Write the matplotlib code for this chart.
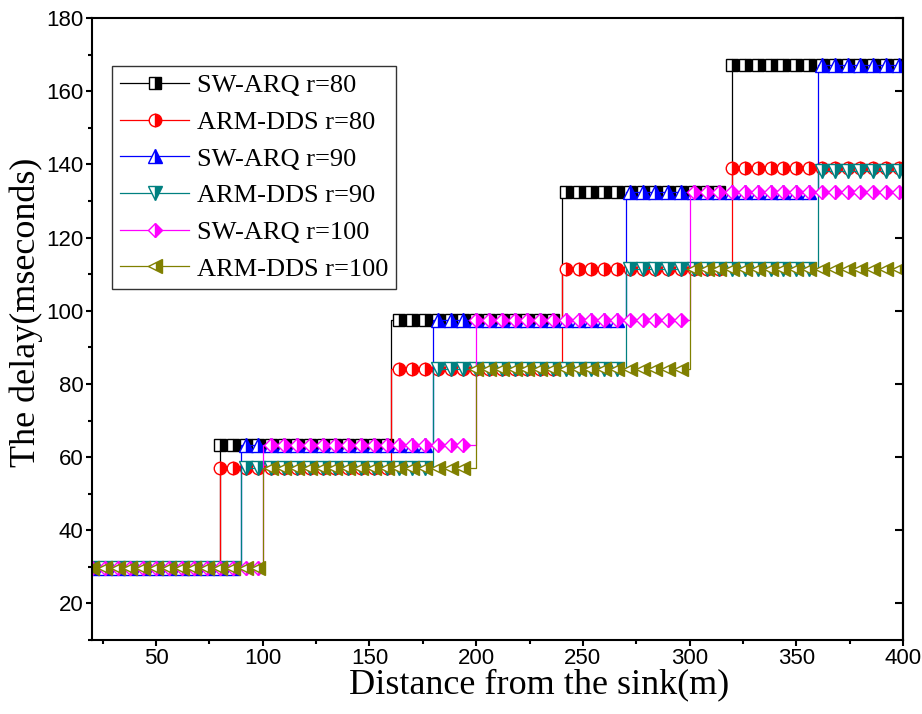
import numpy as np
import matplotlib
matplotlib.use('Agg')
import matplotlib.pyplot as plt
from matplotlib.ticker import MultipleLocator

# distances where markers are drawn (m)
distances = [20, 26, 32, 38, 44, 50, 56, 62, 68, 74, 80, 86, 92, 98, 104, 110,
             116, 122, 128, 134, 140, 146, 152, 158, 164, 170, 176, 182, 188, 194,
             200, 206, 212, 218, 224, 230, 236, 242, 248, 254, 260, 266, 272, 278,
             284, 290, 296, 302, 308, 314, 320, 326, 332, 338, 344, 350, 356, 362,
             368, 374, 380, 386, 392, 398]
x_end = 400

# where each curve steps up, and the delay on each step (ms)
breaks_80 = [80, 160, 240, 320]
breaks_90 = [90, 180, 270, 360]
breaks_100 = [100, 200, 300]

sw_arq_80 = [29.7, 63.2, 97.6, 132.4, 167.3]
arm_dds_80 = [29.7, 57.0, 84.2, 111.5, 139.0]
sw_arq_90 = [29.7, 63.2, 97.6, 132.4, 167.3]
arm_dds_90 = [29.7, 57.0, 84.2, 111.5, 138.3]
sw_arq_100 = [29.7, 63.2, 97.6, 132.4]
arm_dds_100 = [29.7, 57.0, 84.2, 111.5]

labels = ['SW-ARQ r=80', 'ARM-DDS r=80', 'SW-ARQ r=90',
          'ARM-DDS r=90', 'SW-ARQ r=100', 'ARM-DDS r=100']


def step_series(breaks, levels):
    # points: (x, order, y, is_marker)
    pts = []
    for d in distances:
        i = int(np.searchsorted(breaks, d, side='right'))
        pts.append((d, 2, levels[i], True))
    for i, b in enumerate(breaks):
        pts.append((b, 0, levels[i], False))
        pts.append((b, 1, levels[i + 1], False))
    pts.append((x_end, 3, levels[-1], False))
    pts.sort(key=lambda p: (p[0], p[1]))
    xs = [p[0] for p in pts]
    ys = [p[2] for p in pts]
    marks = [k for k, p in enumerate(pts) if p[3]]
    return xs, ys, marks


series = [
    (breaks_80, sw_arq_80, '#000000', 's', 8.0),
    (breaks_80, arm_dds_80, '#ff0000', 'o', 9.0),
    (breaks_90, sw_arq_90, '#0000ff', '^', 10.0),
    (breaks_90, arm_dds_90, '#008080', 'v', 10.0),
    (breaks_100, sw_arq_100, '#ff00ff', 'D', 7.5),
    (breaks_100, arm_dds_100, '#808000', '<', 10.0),
]

fig = plt.figure(figsize=(9.22, 7.14), dpi=100)
ax = fig.add_axes([0.0998, 0.1036, 0.8796, 0.8711])

for (br, lv, col, mk, ms), lab in zip(series, labels):
    xs, ys, marks = step_series(br, lv)
    ax.plot(xs, ys, color=col, lw=0.9, marker=mk, markersize=ms,
            markevery=marks, fillstyle='right', markerfacecolor=col,
            markerfacecoloralt='white', markeredgecolor=col,
            markeredgewidth=1.0, label=lab)

ax.set_xlim(20, 400)
ax.set_ylim(10, 180)
ax.xaxis.set_major_locator(MultipleLocator(50))
ax.xaxis.set_minor_locator(MultipleLocator(25))
ax.yaxis.set_major_locator(MultipleLocator(20))
ax.yaxis.set_minor_locator(MultipleLocator(10))

for s in ax.spines.values():
    s.set_linewidth(1.5)
ax.tick_params(which='major', direction='out', length=4.5, width=1.5,
               labelsize=16, pad=1.5)
ax.tick_params(which='minor', direction='out', length=3, width=1.5)
for t in ax.get_xticklabels() + ax.get_yticklabels():
    t.set_family('Liberation Sans')

# inward ticks on the right side
ax2 = ax.secondary_yaxis('right')
ax2.yaxis.set_major_locator(MultipleLocator(20))
ax2.tick_params(direction='in', length=6, width=1.5, labelright=False)
ax2.spines['right'].set_linewidth(1.5)

ax.set_xlabel('Distance from the sink(m)', fontsize=26, family='Liberation Serif')
ax.xaxis.set_label_coords(0.551, -0.046)
ax.set_ylabel('The delay(mseconds)', fontsize=26, family='Liberation Serif')
ax.yaxis.set_label_coords(-0.061, 0.527)

leg = ax.legend(loc='upper left', bbox_to_anchor=(0.025, 0.923), numpoints=1,
                prop={'family': 'Liberation Serif', 'size': 19},
                frameon=True, fancybox=False, handlelength=2.6,
                labelspacing=0.5, borderpad=0.3, handletextpad=0.3,
                borderaxespad=0)
leg.get_frame().set_edgecolor('black')
leg.get_frame().set_linewidth(1.0)

fig.savefig('out.png', dpi=100)
